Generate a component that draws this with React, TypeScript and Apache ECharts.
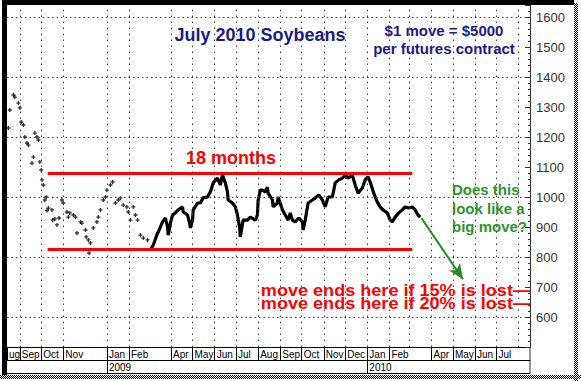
import React, { useEffect, useRef } from 'react';
import * as echarts from 'echarts';

// ---------- data ----------
const sparseDates = [
  '2008-08-16','2008-08-18','2008-08-23','2008-08-25','2008-08-30','2008-09-01','2008-09-03','2008-09-06',
  '2008-09-08','2008-09-11','2008-09-13','2008-09-18','2008-09-20','2008-09-22','2008-09-25','2008-09-27',
  '2008-09-29','2008-10-01','2008-10-02','2008-10-04','2008-10-06','2008-10-08','2008-10-09','2008-10-11',
  '2008-10-16','2008-10-17','2008-10-20','2008-10-23','2008-10-26','2008-10-30','2008-11-01','2008-11-06',
  '2008-11-08','2008-11-10','2008-11-15','2008-11-18','2008-11-20','2008-11-25','2008-11-27','2008-12-02',
  '2008-12-03','2008-12-06','2008-12-07','2008-12-09','2008-12-13','2008-12-18','2008-12-20','2008-12-23',
  '2008-12-27','2008-12-30','2009-01-01','2009-01-06','2009-01-09','2009-01-13','2009-01-17','2009-01-20',
  '2009-01-24','2009-01-29','2009-01-31','2009-02-03','2009-02-07','2009-02-10','2009-02-13','2009-02-17',
  '2009-02-21','2009-02-27',
];
const sparseValues = [
  1230,1290,1340,1333,1313,1297,1250,1240,
  1200,1180,1173,1113,1133,1213,1200,1190,
  1117,1090,1057,1040,990,1000,955,963,
  957,923,927,907,930,990,980,950,
  933,947,940,933,880,917,913,890,
  867,857,813,847,897,917,933,957,
  990,1000,1023,1040,1050,980,990,997,
  973,967,950,923,967,940,923,873,
  863,857,
];

const priceDates = [
  '2009-03-03','2009-03-07','2009-03-13','2009-03-14','2009-03-20','2009-03-24','2009-03-27','2009-03-28',
  '2009-03-31','2009-04-03','2009-04-07','2009-04-11','2009-04-17','2009-04-18','2009-04-24','2009-04-27',
  '2009-04-28','2009-05-01','2009-05-02','2009-05-08','2009-05-12','2009-05-16','2009-05-22','2009-05-26',
  '2009-05-30','2009-06-05','2009-06-09','2009-06-12','2009-06-16','2009-06-19','2009-06-20','2009-06-26',
  '2009-06-30','2009-07-03','2009-07-06','2009-07-07','2009-07-11','2009-07-17','2009-07-21','2009-07-28',
  '2009-07-31','2009-08-01','2009-08-04','2009-08-07','2009-08-11','2009-08-14','2009-08-15','2009-08-21',
  '2009-08-22','2009-08-28','2009-08-29','2009-09-04','2009-09-08','2009-09-12','2009-09-15','2009-09-18',
  '2009-09-22','2009-09-27','2009-10-02','2009-10-03','2009-10-06','2009-10-10','2009-10-16','2009-10-20',
  '2009-10-25','2009-10-30','2009-11-03','2009-11-07','2009-11-13','2009-11-17','2009-11-22','2009-11-27',
  '2009-12-01','2009-12-05','2009-12-11','2009-12-15','2009-12-19','2009-12-25','2009-12-29','2010-01-02',
  '2010-01-05','2010-01-10','2010-01-15','2010-01-19','2010-01-23','2010-01-29','2010-02-02','2010-02-05',
  '2010-02-09','2010-02-14','2010-02-19','2010-02-23','2010-02-28','2010-03-05','2010-03-09','2010-03-13',
  '2010-03-16',
];
const priceValues = [
  823,840,880,883,917,930,900,873,
  913,940,947,957,967,950,940,913,
  897,923,957,980,980,997,1000,1017,
  1047,1063,1040,1073,1047,1017,990,980,
  967,940,900,867,923,923,933,923,
  940,990,1023,1023,1017,1033,1013,990,
  967,980,1000,957,940,923,947,923,
  917,930,917,890,923,980,990,997,
  1007,990,967,1000,1000,1047,1057,1063,
  1073,1063,1073,1040,1013,1030,1057,1067,
  1050,1013,983,967,957,947,923,917,
  933,947,957,967,963,967,957,940,
  933,
];

const monthTickDates = [
  '2008-09-01','2008-10-01','2008-11-01','2009-01-01','2009-02-01','2009-04-01','2009-05-01','2009-06-01',
  '2009-07-01','2009-08-01','2009-09-01','2009-10-01','2009-11-01','2009-12-01','2010-01-01','2010-02-01',
  '2010-04-01','2010-05-01','2010-06-01','2010-07-01',
];
const monthTickLabels = [
  'Sep','Oct','Nov','Jan','Feb','Apr','May','Jun',
  'Jul','Aug','Sep','Oct','Nov','Dec','Jan','Feb',
  'Apr','May','Jun','Jul',
];
const extraGridDates = ['2010-03-01', '2010-08-01'];
const yearTickDates = ['2009-01-01', '2010-01-01'];
const yearTickLabels = ['2009', '2010'];
const yGridValues = [600, 800, 1000, 1200, 1400, 1600];

const xStartDate = '2008-08-14';
const xEndDate = '2010-08-17';
const firstLabel = 'ug';

const rangeStartDate = '2008-10-10';
const rangeEndDate = '2010-03-05';
const resistanceLevel = 1080;
const supportLevel = 825;
const arrowFromDate = '2010-03-18';
const arrowFromValue = 929;
const arrowToDate = '2010-05-15';
const arrowToValue = 726;

const lossTexts = ['move ends here if 15% is lost\u2014', 'move ends here if 20% is lost\u2014'];

// ---------- helpers ----------
const ts = (d: string) => Date.parse(d);
const FONT = '"Liberation Sans", Arial, sans-serif';

export default function App() {
  const ref = useRef<HTMLDivElement>(null);

  useEffect(() => {
    if (!ref.current) return;
    const chart = echarts.init(ref.current, undefined, { renderer: 'svg' });

    const xMin = ts(xStartDate);
    const xMax = ts(xEndDate);

    const monthLabelMap = new Map<number, string>();
    monthTickDates.forEach((d, i) => monthLabelMap.set(ts(d), monthTickLabels[i]));
    monthLabelMap.set(xMin, firstLabel);
    const yearLabelMap = new Map<number, string>();
    yearTickDates.forEach((d, i) => yearLabelMap.set(ts(d), yearTickLabels[i]));

    const monthVals = [xMin, ...monthTickDates.map(ts)];
    const yearVals = yearTickDates.map(ts);

    const gridXs = [...monthTickDates, ...extraGridDates].map(ts);

    const baseX = {
      type: 'value' as const,
      min: xMin,
      max: xMax,
      splitLine: { show: false },
      position: 'bottom' as const,
    };

    const checkerLines: any[] = [];
    for (let i = 0; i < 4; i++) {
      checkerLines.push({
        type: 'line',
        shape: { x1: 574.5 + i, y1: 3, x2: 574.5 + i, y2: 381 },
        style: { stroke: '#000', lineWidth: 1, lineDash: [1, 1], lineDashOffset: i % 2 },
        silent: true,
      });
      checkerLines.push({
        type: 'line',
        shape: { x1: 0, y1: 375.5 + i, x2: 581, y2: 375.5 + i },
        style: { stroke: '#000', lineWidth: 1, lineDash: [1, 1], lineDashOffset: i % 2 },
        silent: true,
      });
    }

    const option: any = {
      animation: false,
      backgroundColor: '#fff',
      grid: { left: 7, right: 51, top: 5, bottom: 34, show: false },
      xAxis: [
        {
          ...baseX,
          axisLine: { show: true, lineStyle: { color: '#000', width: 1 } },
          axisTick: { show: true, inside: false, length: 13, customValues: monthVals, lineStyle: { color: '#000' } },
          axisLabel: {
            show: true,
            customValues: monthVals,
            formatter: (v: number) => monthLabelMap.get(v) ?? '',
            align: 'left',
            verticalAlign: 'top',
            margin: 2,
            padding: [0, 0, 0, 2],
            fontSize: 10,
            fontFamily: FONT,
            color: '#000',
          },
        },
        {
          ...baseX,
          offset: 13,
          axisLine: { show: true, lineStyle: { color: '#000', width: 1 } },
          axisTick: { show: true, inside: false, length: 13, customValues: yearVals, lineStyle: { color: '#000' } },
          axisLabel: {
            show: true,
            customValues: yearVals,
            formatter: (v: number) => yearLabelMap.get(v) ?? '',
            align: 'left',
            verticalAlign: 'top',
            margin: 2,
            padding: [0, 0, 0, 2],
            fontSize: 10,
            fontFamily: FONT,
            color: '#000',
          },
        },
        {
          ...baseX,
          offset: 26,
          axisLine: { show: true, lineStyle: { color: '#000', width: 1 } },
          axisTick: { show: false },
          axisLabel: { show: false },
        },
      ],
      yAxis: {
        type: 'value',
        position: 'right',
        min: 500,
        max: 1640,
        interval: 100,
        splitLine: { show: false },
        axisLine: { show: true, lineStyle: { color: '#333', width: 1 } },
        axisTick: { show: true, inside: true, length: 5, lineStyle: { color: '#333' } },
        minorTick: { show: true, splitNumber: 5, length: 2, lineStyle: { color: '#333' } },
        axisLabel: {
          margin: 6,
          fontSize: 13,
          fontFamily: FONT,
          color: '#333',
          formatter: (v: number) => (v >= 600 && v <= 1600 && v % 100 === 0 ? String(v) : ''),
        },
      },
      series: [
        {
          type: 'line',
          data: [],
          z: 1,
          silent: true,
          markLine: {
            silent: true,
            symbol: ['none', 'none'],
            label: { show: false },
            lineStyle: { color: '#444', width: 1, type: [1.5, 4.5] },
            emphasis: { disabled: true },
            data: gridXs.map((x) => ({ xAxis: x })),
          },
        },
        {
          type: 'line',
          data: [],
          z: 1,
          silent: true,
          markLine: {
            silent: true,
            symbol: ['none', 'none'],
            label: { show: false },
            lineStyle: { color: '#444', width: 1, type: [1.5, 3] },
            emphasis: { disabled: true },
            data: yGridValues.map((y) => ({ yAxis: y })),
          },
        },
        {
          type: 'line',
          data: [],
          z: 2,
          silent: true,
          markLine: {
            silent: true,
            symbol: ['none', 'none'],
            label: { show: false },
            lineStyle: { color: '#ff0000', width: 3, type: 'solid' },
            emphasis: { disabled: true },
            data: [
              [{ coord: [ts(rangeStartDate), resistanceLevel] }, { coord: [ts(rangeEndDate), resistanceLevel] }],
              [{ coord: [ts(rangeStartDate), supportLevel] }, { coord: [ts(rangeEndDate), supportLevel] }],
            ],
          },
        },
        {
          type: 'scatter',
          z: 3,
          silent: true,
          symbol: 'path://M0,1H3V2H0Z M1,0H2V3H1Z',
          symbolSize: [4, 4],
          itemStyle: { color: '#000' },
          data: sparseDates.map((d, i) => [ts(d), sparseValues[i]]),
        },
        {
          type: 'line',
          z: 4,
          silent: true,
          showSymbol: false,
          lineStyle: { color: '#000', width: 3.2 },
          data: priceDates.map((d, i) => [ts(d), priceValues[i]]),
        },
        {
          type: 'line',
          data: [],
          z: 5,
          silent: true,
          markLine: {
            silent: true,
            symbol: ['none', 'arrow'],
            symbolSize: [10, 15],
            label: { show: false },
            lineStyle: { color: '#1e8c1e', width: 2, type: 'solid' },
            itemStyle: { color: '#1e8c1e' },
            emphasis: { disabled: true },
            data: [
              [{ coord: [ts(arrowFromDate), arrowFromValue] }, { coord: [ts(arrowToDate), arrowToValue] }],
            ],
          },
        },
      ],
      graphic: [
        // frame
        { type: 'rect', shape: { x: 2, y: 0, width: 572, height: 5 }, style: { fill: '#000' }, silent: true },
        { type: 'rect', shape: { x: 2, y: 0, width: 5, height: 375 }, style: { fill: '#000' }, silent: true },
        { type: 'line', shape: { x1: 530, y1: 347, x2: 530, y2: 373 }, style: { stroke: '#333', lineWidth: 1 }, silent: true },
        ...checkerLines,
        // texts
        {
          type: 'text', x: 260, y: 35, silent: true,
          style: { text: 'July 2010 Soybeans', fill: '#1a1a8c', font: `bold 18px ${FONT}`, align: 'center', verticalAlign: 'middle' },
        },
        {
          type: 'text', x: 444, y: 30, silent: true,
          style: { text: '$1 move = $5000', fill: '#1a1a8c', font: `bold 15px ${FONT}`, align: 'center', verticalAlign: 'middle' },
        },
        {
          type: 'text', x: 444, y: 48, silent: true,
          style: { text: 'per futures contract', fill: '#1a1a8c', font: `bold 15px ${FONT}`, align: 'center', verticalAlign: 'middle' },
        },
        {
          type: 'text', x: 231, y: 158, silent: true,
          style: { text: '18 months', fill: '#ff0000', font: `bold 18px ${FONT}`, align: 'center', verticalAlign: 'middle' },
        },
        {
          type: 'text', x: 452, y: 208, silent: true,
          style: {
            text: 'Does this\nlook like a\nbig move?',
            fill: '#2a962a',
            font: `bold 15px ${FONT}`,
            lineHeight: 18.5,
            align: 'left',
            verticalAlign: 'middle',
          },
        },
        {
          type: 'text', x: 531, y: 297.5, scaleX: 1.13, silent: true,
          style: {
            text: lossTexts.join('\n'),
            fill: '#ff0000',
            font: `bold 16px ${FONT}`,
            lineHeight: 13.5,
            align: 'right',
            verticalAlign: 'middle',
          },
        },
      ],
    };

    chart.setOption(option);
    return () => chart.dispose();
  }, []);

  return <div ref={ref} style={{ width: 581, height: 381, position: 'absolute', left: 0, top: 0 }} />;
}
